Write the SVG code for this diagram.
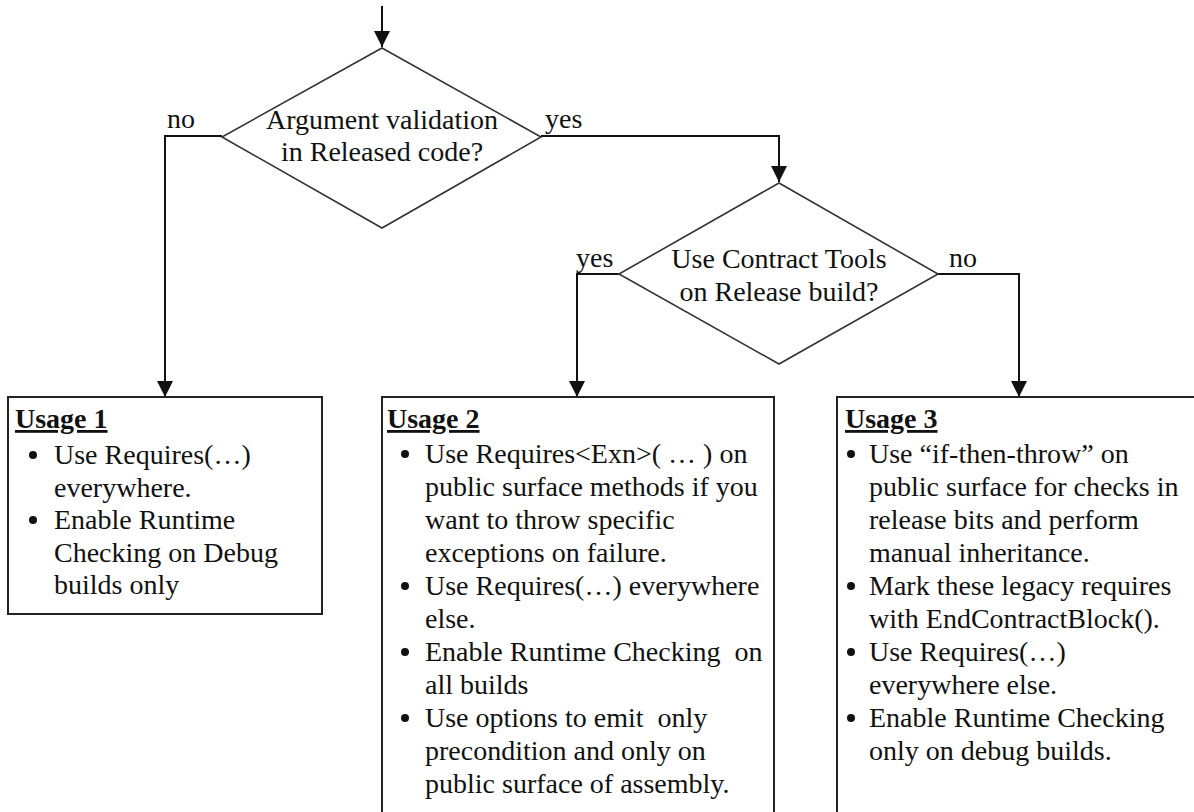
<svg xmlns="http://www.w3.org/2000/svg" width="1194" height="812" viewBox="0 0 1194 812">
<style>
text{font-family:"Liberation Serif","Times New Roman",serif;font-size:28px;fill:#111;white-space:pre}
.c{text-anchor:middle}
.h{font-weight:bold;text-decoration:underline}
.dia{fill:#fff;stroke:#333;stroke-width:1.6}
.box{fill:#fff;stroke:#222;stroke-width:2}
.ln{fill:none;stroke:#111;stroke-width:2}
.b{fill:#111}
</style>
<defs>
<marker id="ah" viewBox="0 0 16 16" refX="16" refY="8" markerWidth="16" markerHeight="16" markerUnits="userSpaceOnUse" orient="auto">
<path d="M0,0 L16,8 L0,16 Z" fill="#111"/>
</marker>
</defs>
<rect width="1194" height="812" fill="#fff"/>
<g id="connectors">
<path class="ln" d="M382,6 V47" marker-end="url(#ah)"/>
<path class="ln" d="M541,136 H779 V182" marker-end="url(#ah)"/>
<path class="ln" d="M222,136 H165 V397" marker-end="url(#ah)"/>
<path class="ln" d="M619,274 H577 V397" marker-end="url(#ah)"/>
<path class="ln" d="M938,274 H1019 V397" marker-end="url(#ah)"/>
<text x="167" y="128">no</text>
<text x="545" y="128">yes</text>
<text x="576" y="267">yes</text>
<text x="949" y="267">no</text>
</g>
<g id="decision1">
<polygon class="dia" points="382,48 541,137 382,228 222,137"/>
<text class="c" x="382" y="129">Argument validation</text>
<text class="c" x="382" y="161">in Released code?</text>
</g>
<g id="decision2">
<polygon class="dia" points="779,183 938,274 779,364 619,274"/>
<text class="c" x="779" y="268">Use Contract Tools</text>
<text class="c" x="779" y="301">on Release build?</text>
</g>
<g id="usage1">
<rect class="box" x="8" y="397" width="314" height="217"/>
<text class="h" x="15" y="428">Usage 1</text>
<circle class="b" cx="33" cy="455" r="4"/>
<circle class="b" cx="33" cy="520" r="4"/>
<text x="54" y="464">Use Requires(…)</text>
<text x="54" y="496.5">everywhere.</text>
<text x="54" y="529">Enable Runtime</text>
<text x="54" y="561.5">Checking on Debug</text>
<text x="54" y="594">builds only</text>
</g>
<g id="usage2">
<rect class="box" x="382" y="397" width="392" height="440"/>
<text class="h" x="387" y="428">Usage 2</text>
<circle class="b" cx="405" cy="454" r="4"/>
<circle class="b" cx="405" cy="586" r="4"/>
<circle class="b" cx="405" cy="652" r="4"/>
<circle class="b" cx="405" cy="718" r="4"/>
<text x="425" y="463">Use Requires&lt;Exn&gt;( … ) on</text>
<text x="425" y="496">public surface methods if you</text>
<text x="425" y="529">want to throw specific</text>
<text x="425" y="562">exceptions on failure.</text>
<text x="425" y="595">Use Requires(…) everywhere</text>
<text x="425" y="628">else.</text>
<text x="425" y="661">Enable Runtime Checking  on</text>
<text x="425" y="694">all builds</text>
<text x="425" y="727">Use options to emit  only</text>
<text x="425" y="760">precondition and only on</text>
<text x="425" y="793">public surface of assembly.</text>
</g>
<g id="usage3">
<rect class="box" x="837" y="397" width="380" height="440"/>
<text class="h" x="845" y="428">Usage 3</text>
<circle class="b" cx="851" cy="454" r="4"/>
<circle class="b" cx="851" cy="586" r="4"/>
<circle class="b" cx="851" cy="652" r="4"/>
<circle class="b" cx="851" cy="718" r="4"/>
<text x="869" y="463">Use “if-then-throw” on</text>
<text x="869" y="496">public surface for checks in</text>
<text x="869" y="529">release bits and perform</text>
<text x="869" y="562">manual inheritance.</text>
<text x="869" y="595">Mark these legacy requires</text>
<text x="869" y="628">with EndContractBlock().</text>
<text x="869" y="661">Use Requires(…)</text>
<text x="869" y="694">everywhere else.</text>
<text x="869" y="727">Enable Runtime Checking</text>
<text x="869" y="760">only on debug builds.</text>
</g>
</svg>
